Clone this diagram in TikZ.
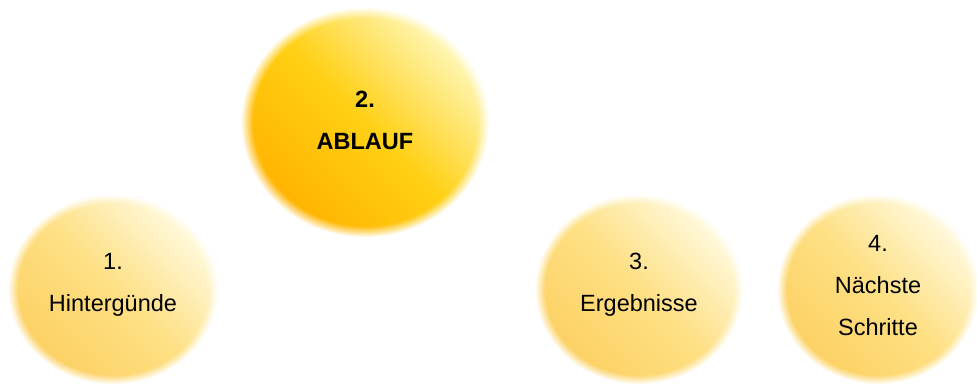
\documentclass[tikz,border=0pt]{standalone}
\usepackage{fontspec}
\setmainfont{Liberation Sans}
\usepackage{tikz}
\usetikzlibrary{shapes.geometric,fadings}
\definecolor{SunDeep}{RGB}{255,178,0}
\definecolor{SunMid}{RGB}{255,208,20}
\definecolor{SunLight}{RGB}{255,248,190}
\definecolor{PaleDeep}{RGB}{252,208,98}
\definecolor{PaleMid}{RGB}{254,224,132}
\definecolor{PaleLight}{RGB}{255,250,225}
\tikzset{
  ball/.style={ellipse,inner sep=0pt,align=center,text depth=13pt,
    bottom color=PaleDeep,top color=PaleLight,middle color=PaleMid,shading angle=-45,
    path fading=circle with fuzzy edge 10 percent,
    font=\fontsize{23.5}{42}\selectfont},
  bigball/.style={ball,bottom color=SunDeep,top color=SunLight,middle color=SunMid,
    shading angle=-45,text depth=4pt,font=\bfseries\fontsize{23.5}{42}\selectfont},
}

\begin{document}
\begin{tikzpicture}[x=1pt,y=-1pt]
\useasboundingbox (0,0) rectangle (977,387);
\coordinate (c1) at (113,289);
\coordinate (c2) at (365,122);
\coordinate (c3) at (639,289);
\coordinate (c4) at (878,289);
\node[ball,minimum width=210pt,minimum height=190pt] (hint) at (c1) {1.\\Hintergünde};
\node[bigball,minimum width=248pt,minimum height=230pt] (ablauf) at (c2) {2.\\ABLAUF};
\node[ball,minimum width=208pt,minimum height=190pt] (erg) at (c3) {3.\\Ergebnisse};
\node[ball,text depth=8pt,minimum width=202pt,minimum height=190pt] (next) at (c4) {4.\\Nächste\\Schritte};
\end{tikzpicture}
\end{document}
